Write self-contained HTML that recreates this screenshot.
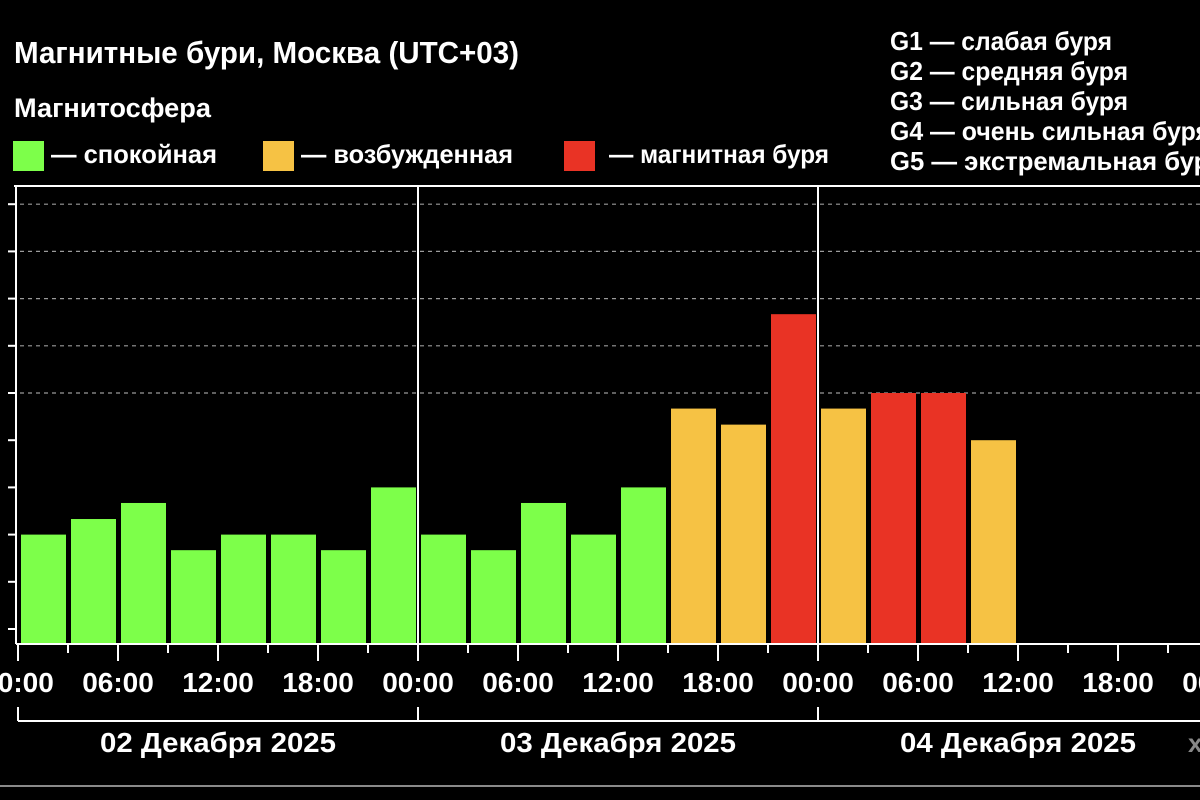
<!DOCTYPE html>
<html><head><meta charset="utf-8"><style>
html,body{margin:0;padding:0;background:#000;width:1200px;height:800px;overflow:hidden}
svg{display:block}
text{font-family:"Liberation Sans",sans-serif;font-weight:bold;fill:#fff}
</style></head><body>
<svg id="c" width="1200" height="800" viewBox="0 0 1200 800">
<text x="14" y="63" font-size="31" textLength="505" lengthAdjust="spacingAndGlyphs">Магнитные бури, Москва (UTC+03)</text>
<text x="14" y="117" font-size="27" textLength="197" lengthAdjust="spacingAndGlyphs">Магнитосфера</text>
<g><rect x="13" y="141" width="31" height="30" fill="#7dff4a"/><text x="51" y="163" font-size="26" textLength="166" lengthAdjust="spacingAndGlyphs">— спокойная</text></g>
<g><rect x="263" y="141" width="31" height="30" fill="#f6c244"/><text x="301" y="163" font-size="26" textLength="212" lengthAdjust="spacingAndGlyphs">— возбужденная</text></g>
<g><rect x="564" y="141" width="31" height="30" fill="#e93325"/><text x="609" y="163" font-size="26" textLength="220" lengthAdjust="spacingAndGlyphs">— магнитная буря</text></g>
<g font-size="26">
<text x="890" y="50" textLength="222" lengthAdjust="spacingAndGlyphs">G1 — слабая буря</text>
<text x="890" y="80" textLength="238" lengthAdjust="spacingAndGlyphs">G2 — средняя буря</text>
<text x="890" y="110" textLength="238" lengthAdjust="spacingAndGlyphs">G3 — сильная буря</text>
<text x="890" y="140" textLength="320" lengthAdjust="spacingAndGlyphs">G4 — очень сильная буря</text>
<text x="890" y="170" textLength="334" lengthAdjust="spacingAndGlyphs">G5 — экстремальная буря</text>
</g>
<g id="grid"></g>
<g id="bars"></g>
<g id="axes"></g>
<line x1="0" y1="786" x2="1200" y2="786" stroke="#8a8a8a" stroke-width="2"/>
<text x="1188" y="752" font-size="26" style="fill:#888">х</text>
</svg>
<script>
const kpValues=[2,2.33,2.67,1.67,2,2,1.67,3, 2,1.67,2.67,2,3,4.67,4.33,6.67, 4.67,5,5,4];
const hourLabels=["00:00","06:00","12:00","18:00"];
const dayLabels=["02 Декабря 2025","03 Декабря 2025","04 Декабря 2025"];
const yTicks=[0,1,2,3,4,5,6,7,8,9];
const gridLevels=[5,6,7,8,9];

const NS="http://www.w3.org/2000/svg";
const X0=18, SLOT=50, BASE=644, Y0=629, UNIT=47.2, TOP=186;
const xs=i=>X0+SLOT*i;
const ys=v=>Y0-v*UNIT;
function mk(tag,attrs,parent){const e=document.createElementNS(NS,tag);for(const k in attrs)e.setAttribute(k,attrs[k]);parent.appendChild(e);return e;}
const grid=document.getElementById('grid'),bars=document.getElementById('bars'),axes=document.getElementById('axes');
gridLevels.forEach(v=>{
  const l=mk('line',{x1:20,x2:1200,y1:ys(v),y2:ys(v),stroke:'#9a9a9a','stroke-width':1.2,'stroke-dasharray':'4 4'},grid);
  
  
});
kpValues.forEach((v,i)=>{
  const col=v>=5?'#e93325':(v>=4?'#f6c244':'#7dff4a');
  const r=mk('rect',{x:xs(i)+3,y:ys(v),width:45,height:BASE-ys(v),fill:col},bars);
  
  
});
mk('line',{x1:14,x2:1200,y1:TOP,y2:TOP,stroke:'#fff','stroke-width':2},axes);
mk('line',{x1:16,x2:16,y1:TOP,y2:BASE,stroke:'#fff','stroke-width':2},axes);
mk('line',{x1:16,x2:1200,y1:BASE,y2:BASE,stroke:'#fff','stroke-width':2},axes);
yTicks.forEach(v=>{const t=mk('line',{x1:8,x2:16,y1:ys(v),y2:ys(v),stroke:'#fff','stroke-width':2},axes);
  
  });
for(let d=1;d<3;d++){mk('line',{x1:xs(8*d),x2:xs(8*d),y1:TOP,y2:BASE,stroke:'#fff','stroke-width':2},axes);}
for(let i=0;i<=24;i++){
  const major=i%2===0;
  mk('line',{x1:xs(i),x2:xs(i),y1:BASE,y2:major?661:653,stroke:'#fff','stroke-width':2},axes);
  if(major){const t=mk('text',{x:xs(i),y:692,'font-size':28,'text-anchor':'middle'},axes);
    t.textContent=hourLabels[(i/2)%4];
    
    }
}
mk('line',{x1:X0,x2:1200,y1:721,y2:721,stroke:'#fff','stroke-width':2},axes);
dayLabels.forEach((s,d)=>{
  mk('line',{x1:xs(8*d),x2:xs(8*d),y1:707,y2:721,stroke:'#fff','stroke-width':2},axes);
  const t=mk('text',{x:xs(8*d)+200,y:752,'font-size':28,'text-anchor':'middle',textLength:236,lengthAdjust:'spacingAndGlyphs'},axes);
  t.textContent=s;
  
  
});
</script>
</body></html>
